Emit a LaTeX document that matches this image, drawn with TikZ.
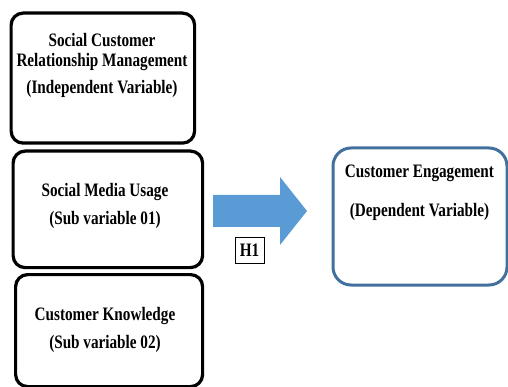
\documentclass[tikz,border=0pt]{standalone}
\usepackage{fontspec}
\usepackage{xcolor}
\usepackage{tikz}
\setmainfont{Liberation Serif}[FakeStretch=0.8]
\definecolor{arrowblue}{HTML}{5B9BD5}
\definecolor{edgeblue}{HTML}{41719C}

\begin{document}
\begin{tikzpicture}[x=1pt, y=-1pt,
    every node/.style={font=\bfseries\fontsize{19}{21}\selectfont},
    varbox/.style={rectangle, draw=black, line width=3.2pt, rounded corners=12pt, anchor=north west, inner sep=0pt},
    depbox/.style={rectangle, draw=edgeblue, line width=3pt, rounded corners=18pt, anchor=north west, inner sep=0pt},
    boxtext/.style={anchor=base, inner sep=0pt}]
    \useasboundingbox (0,0) rectangle (508,387);
    \node (scrm) [varbox, minimum width=183.5pt, minimum height=130pt] at (9.5,11.5) {};
    \node (smu) [varbox, minimum width=189.5pt, minimum height=116.5pt] at (11.5,149.5) {};
    \node (ck) [varbox, minimum width=187pt, minimum height=112pt] at (14,273) {};
    \node (ce) [depbox, minimum width=174pt, minimum height=137pt] at (331.5,146.5) {};

    \node (scrm1) [boxtext] at (102,46.5) {Social Customer};
    \node (scrm2) [boxtext] at (102,66.5) {Relationship Management};
    \node (scrm3) [boxtext] at (102,94) {(Independent Variable)};
    \node (smu1) [boxtext] at (105,197) {Social Media Usage};
    \node (smu2) [boxtext] at (105,225) {(Sub variable 01)};
    \node (ck1) [boxtext] at (105,320) {Customer Knowledge};
    \node (ck2) [boxtext] at (105,348) {(Sub variable 02)};
    \node (ce1) [boxtext] at (419.5,178) {Customer Engagement};
    \node (ce2) [boxtext] at (419.5,217) {(Dependent Variable)};

    \fill[arrowblue] (213,195) -- (280,195) -- (280,177) -- (307,211) -- (280,245) -- (280,227) -- (213,227) -- cycle;
    \node (h1) [rectangle, draw, line width=0.8pt, minimum width=29pt, minimum height=26pt, inner sep=0pt] at (249.5,250) {H1};
\end{tikzpicture}
\end{document}
